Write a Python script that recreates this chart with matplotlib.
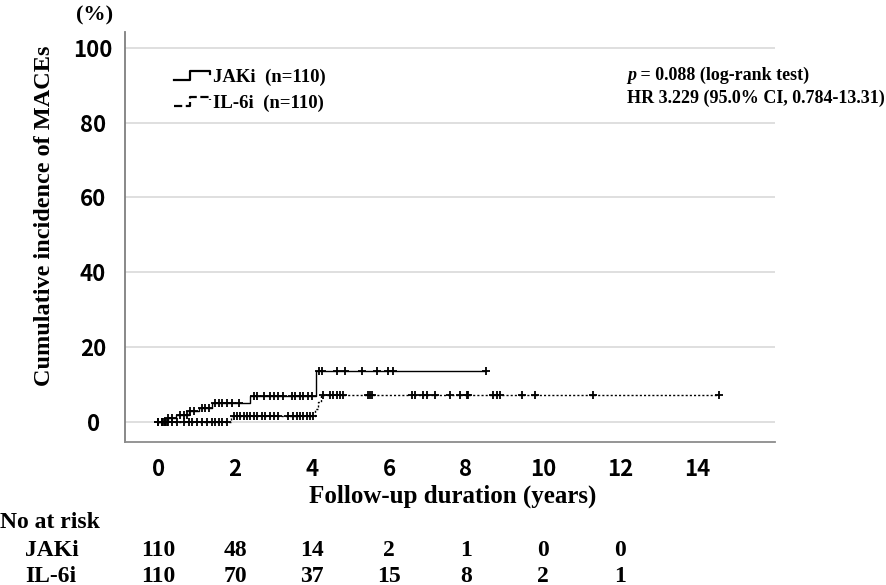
import matplotlib
matplotlib.use("Agg")
import matplotlib.pyplot as plt
from matplotlib.legend_handler import HandlerBase
from matplotlib.lines import Line2D
import numpy as np

# event times (years) and cumulative incidence (%) after each event
jaki_times = [0.25, 0.47, 0.8, 1.05, 1.4, 2.4, 4.1]
jaki_cum = [0.9, 1.8, 2.8, 3.8, 5.0, 7.0, 13.6]
jaki_censor = [0.01, 0.1, 0.14, 0.18, 0.23, 0.27, 0.36, 0.57, 0.66, 0.74, 0.84, 0.92,
               1.13, 1.22, 1.31, 1.48, 1.57, 1.65, 1.78, 1.91, 2.09,
               2.48, 2.56, 2.74, 2.91, 3.0, 3.12, 3.25, 3.47, 3.56, 3.69, 3.77, 3.9, 3.99,
               4.17, 4.25, 4.64, 4.86, 5.29, 5.68, 5.98, 6.11, 8.52]

il6_times = [1.9, 4.08, 4.15, 4.22]
il6_cum = [1.6, 3.5, 5.3, 7.1]
il6_censor = [0.01, 0.1, 0.18, 0.27, 0.36, 0.49, 0.66, 0.79, 0.87, 1.0, 1.13, 1.26, 1.39,
              1.48, 1.57, 1.65, 1.78,
              1.96, 2.04, 2.13, 2.22, 2.30, 2.39, 2.48, 2.56, 2.69, 2.78, 2.91, 3.0, 3.12,
              3.38, 3.51, 3.6, 3.69, 3.77, 3.86, 3.95, 4.03,
              4.29, 4.47, 4.55, 4.64, 4.73, 4.81, 5.46, 5.51, 5.55, 6.59, 6.68, 6.89, 6.98,
              7.19, 7.58, 7.84, 8.02, 8.06, 8.71, 8.8, 8.88, 9.45, 9.79, 11.29, 14.58]

risk_times = [0, 2, 4, 6, 8, 10, 12]
risk_jaki = [110, 48, 14, 2, 1, 0, 0]
risk_il6 = [110, 70, 37, 15, 8, 2, 1]

x_ticks = [0, 2, 4, 6, 8, 10, 12, 14]
y_ticks = [0, 20, 40, 60, 80, 100]

serif = "Liberation Serif"
sans = "Noto Sans CJK JP"


def step_value(t, times, cum):
    idx = np.searchsorted(times, t, side="right")
    vals = np.r_[0.0, cum]
    return vals[idx]


class StepHandler(HandlerBase):
    def create_artists(self, legend, orig_handle, xdescent, ydescent, width, height, fontsize, trans):
        xs = np.array([0, 0.45, 0.45, 1.0, 1.0]) * width - xdescent
        ys = np.array([0.15, 0.15, 0.85, 0.85, 0.6]) * height - ydescent
        ln = Line2D(xs, ys, color="black", lw=1.6,
                    linestyle=orig_handle.get_linestyle())
        ln.set_transform(trans)
        return [ln]


fig = plt.figure(figsize=(8.86, 5.85), dpi=100)
ax = fig.add_axes([0.1411, 0.2439, 0.7336, 0.7019])

for tk in y_ticks:
    ax.axhline(tk, color="#d9d9d9", lw=1.2, zorder=0)

end_jaki = max(jaki_censor)
end_il6 = max(il6_censor)
h1, = ax.step(np.r_[0, jaki_times, end_jaki], np.r_[0, jaki_cum, jaki_cum[-1]],
              where="post", color="black", lw=1.0, linestyle="-")
h2, = ax.step(np.r_[0, il6_times, end_il6], np.r_[0, il6_cum, il6_cum[-1]],
              where="post", color="black", lw=1.0, linestyle=(0, (1.5, 1.5)))

ax.plot(jaki_censor, step_value(jaki_censor, jaki_times, jaki_cum), linestyle="none",
        marker="+", color="black", ms=6, mew=1.3)
ax.plot(il6_censor, step_value(il6_censor, il6_times, il6_cum), linestyle="none",
        marker="+", color="black", ms=6, mew=1.3)

ax.set_xlim(-0.86, 16.03)
ax.set_ylim(-5.5, 104.3)
ax.set_xticks(x_ticks)
ax.set_yticks(y_ticks)
ax.set_xticklabels([str(v) for v in x_ticks], fontfamily=sans, fontweight="bold", fontsize=16)
ax.set_yticklabels([str(v) for v in y_ticks], fontfamily=sans, fontweight="bold", fontsize=16,
                   ha="center")
ax.tick_params(axis="x", length=0, pad=11)
ax.tick_params(axis="y", length=0, pad=23)

for side in ["top", "right"]:
    ax.spines[side].set_visible(False)
ax.spines["left"].set_color("#7f7f7f")
ax.spines["left"].set_linewidth(1.3)
ax.spines["bottom"].set_color("#8c8c8c")
ax.spines["bottom"].set_linewidth(1.3)

leg = ax.legend([h1, h2], ["JAKi  (n=110)", "IL-6i  (n=110)"],
                handler_map={h1: StepHandler(), h2: StepHandler()},
                loc="upper left", bbox_to_anchor=(0.05, 0.95), frameon=False,
                prop={"family": serif, "weight": "bold", "size": 13.5},
                handlelength=1.9, handletextpad=0.15, labelspacing=0.45)

t1 = ax.text(0.772, 0.882, "p", transform=ax.transAxes, fontfamily=serif,
             fontweight="bold", fontstyle="italic", fontsize=13, ha="left", va="baseline")
ax.annotate(" = 0.088 (log-rank test)", xy=(1, 0), xycoords=t1, fontfamily=serif,
            fontweight="bold", fontsize=13, ha="left", va="bottom")
ax.text(0.772, 0.826, "HR 3.229 (95.0% CI, 0.784-13.31)", transform=ax.transAxes,
        fontfamily=serif, fontweight="bold", fontsize=13, ha="left", va="baseline")

fig.text(95 / 886, 1 - 15 / 585, "(%)", fontfamily=serif, fontweight="bold", fontsize=16,
         ha="center", va="center")
fig.text(45 / 886, 1 - 216 / 585, "Cumulative incidence of MACEs", rotation=90,
         fontfamily=serif, fontweight="bold", fontsize=17.5, ha="center", va="center")
fig.text(453 / 886, 1 - 496 / 585, "Follow-up duration (years)",
         fontfamily=serif, fontweight="bold", fontsize=18, ha="center", va="center")

fig.text(0 / 886, 1 - 523 / 585, "No at risk", fontfamily=serif, fontweight="bold",
         fontsize=17, ha="left", va="center")
fig.text(25 / 886, 1 - 551 / 585, "JAKi", fontfamily=serif, fontweight="bold",
         fontsize=17, ha="left", va="center")
fig.text(25 / 886, 1 - 576 / 585, "IL-6i", fontfamily=serif, fontweight="bold",
         fontsize=17, ha="left", va="center")

for t, a, b in zip(risk_times, risk_jaki, risk_il6):
    x_fig = fig.transFigure.inverted().transform(ax.transData.transform((t, 0)))[0]
    fig.text(x_fig, 1 - 551 / 585, str(a), fontfamily=serif, fontweight="bold",
             fontsize=17, ha="center", va="center")
    fig.text(x_fig, 1 - 576 / 585, str(b), fontfamily=serif, fontweight="bold",
             fontsize=17, ha="center", va="center")

fig.savefig("out.png", dpi=100)
